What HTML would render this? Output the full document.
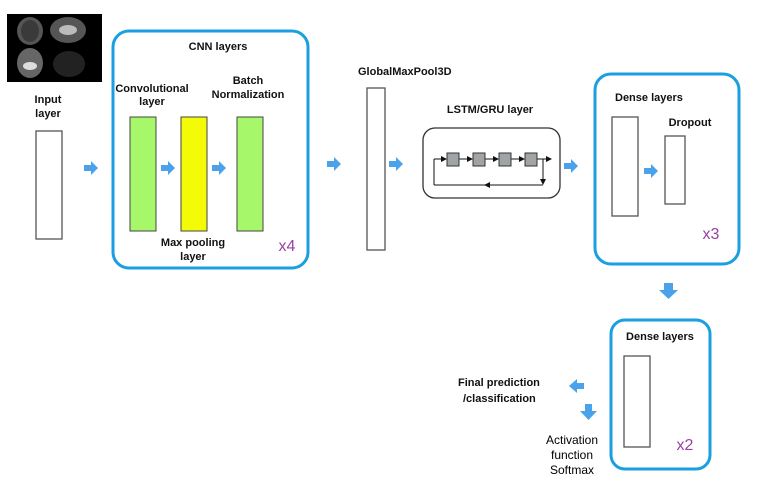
<!DOCTYPE html>
<html><head><meta charset="utf-8"><style>
html,body{margin:0;padding:0;background:#fff;}
svg{display:block;}
text{font-family:"Liberation Sans",sans-serif;font-weight:bold;fill:#111;font-size:11px;}
.p{fill:#9b3fa5;font-weight:normal;font-size:16px;}
</style></head><body>
<svg width="758" height="495" viewBox="0 0 758 495" xmlns="http://www.w3.org/2000/svg">
<defs>
<g id="ar"><polygon points="0,-3 7,-3 7,-7 14,0 7,7 7,3 0,3" fill="#4aa3ea"/></g>
<marker id="mh" markerWidth="6" markerHeight="6" refX="5" refY="3" orient="auto"><polygon points="0,0 6,3 0,6" fill="#111"/></marker>
</defs>
<!-- brain image -->
<rect x="7" y="14" width="95" height="68" fill="#000"/>
<ellipse cx="30" cy="31" rx="13" ry="14" fill="#555"/><ellipse cx="30" cy="31" rx="9" ry="11" fill="#3a3a3a"/>
<ellipse cx="68" cy="30" rx="18" ry="13" fill="#555"/><ellipse cx="68" cy="30" rx="9" ry="5" fill="#bbb"/>
<ellipse cx="30" cy="63" rx="13" ry="15" fill="#666"/><ellipse cx="30" cy="66" rx="7" ry="4" fill="#ddd"/>
<ellipse cx="69" cy="64" rx="16" ry="13" fill="#222"/>
<!-- input -->
<text x="48" y="103" text-anchor="middle">Input</text>
<text x="48" y="117" text-anchor="middle">layer</text>
<rect x="36" y="131" width="26" height="108" fill="#fff" stroke="#555" stroke-width="1.3"/>
<use href="#ar" x="84" y="168"/>
<!-- CNN -->
<rect x="113" y="31" width="195" height="237" rx="16" fill="none" stroke="#1a9fe0" stroke-width="3"/>
<text x="218" y="50" text-anchor="middle" font-size="10">CNN layers</text>
<text x="152" y="92" text-anchor="middle" font-size="10.5">Convolutional</text>
<text x="152" y="105" text-anchor="middle" font-size="10.5">layer</text>
<text x="248" y="84" text-anchor="middle" font-size="11">Batch</text>
<text x="248" y="98" text-anchor="middle" font-size="11">Normalization</text>
<rect x="130" y="117" width="26" height="114" fill="#a6f76a" stroke="#444" stroke-width="1"/>
<rect x="181" y="117" width="26" height="114" fill="#f4fb06" stroke="#444" stroke-width="1"/>
<rect x="237" y="117" width="26" height="114" fill="#a6f76a" stroke="#444" stroke-width="1"/>
<use href="#ar" x="161" y="168"/><use href="#ar" x="212" y="168"/>
<text x="193" y="246" text-anchor="middle" font-size="10.5">Max pooling</text>
<text x="193" y="260" text-anchor="middle" font-size="10.5">layer</text>
<text x="287" y="251" class="p" text-anchor="middle">x4</text>
<use href="#ar" x="327" y="164"/>
<!-- GMP -->
<text x="358" y="75" font-size="11">GlobalMaxPool3D</text>
<rect x="367" y="88" width="18" height="162" fill="#fff" stroke="#555" stroke-width="1.3"/>
<use href="#ar" x="389" y="164"/>
<!-- LSTM -->
<text x="490" y="113" text-anchor="middle" font-size="11">LSTM/GRU layer</text>
<rect x="423" y="128" width="137" height="70" rx="12" fill="#fff" stroke="#333" stroke-width="1.3"/>
<g stroke="#111" stroke-width="1" fill="none">
<line x1="434" y1="159" x2="446" y2="159" marker-end="url(#mh)"/>
<line x1="459" y1="159" x2="472" y2="159" marker-end="url(#mh)"/>
<line x1="485" y1="159" x2="498" y2="159" marker-end="url(#mh)"/>
<line x1="511" y1="159" x2="524" y2="159" marker-end="url(#mh)"/>
<line x1="537" y1="159" x2="551" y2="159" marker-end="url(#mh)"/>
<line x1="543" y1="159" x2="543" y2="184" marker-end="url(#mh)"/>
<line x1="543" y1="185" x2="434" y2="185"/>
<line x1="434" y1="185" x2="434" y2="159"/>
<line x1="495" y1="185" x2="485" y2="185" marker-end="url(#mh)"/>
</g>
<g fill="#a0a4a6" stroke="#333" stroke-width="1">
<rect x="447" y="153" width="12" height="13"/><rect x="473" y="153" width="12" height="13"/>
<rect x="499" y="153" width="12" height="13"/><rect x="525" y="153" width="12" height="13"/>
</g>
<use href="#ar" x="564" y="166"/>
<!-- Dense 1 -->
<rect x="595" y="74" width="144" height="190" rx="16" fill="none" stroke="#1a9fe0" stroke-width="3"/>
<text x="615" y="101" font-size="10">Dense layers</text>
<text x="690" y="126" text-anchor="middle" font-size="12">Dropout</text>
<rect x="612" y="117" width="26" height="99" fill="#fff" stroke="#555" stroke-width="1.3"/>
<rect x="665" y="136" width="20" height="68" fill="#fff" stroke="#555" stroke-width="1.3"/>
<use href="#ar" x="644" y="171"/>
<text x="711" y="239" class="p" text-anchor="middle">x3</text>
<!-- down arrow -->
<polygon points="664,283 673,283 673,290 678,290 668.5,299 659,290 664,290" fill="#4aa3ea"/>
<!-- Dense 2 -->
<rect x="611" y="320" width="99" height="149" rx="14" fill="none" stroke="#1a9fe0" stroke-width="3"/>
<text x="660" y="340" text-anchor="middle" font-size="10">Dense layers</text>
<rect x="624" y="356" width="26" height="91" fill="#fff" stroke="#555" stroke-width="1.3"/>
<text x="685" y="450" class="p" text-anchor="middle">x2</text>
<!-- outputs -->
<polygon points="584,383 577,383 577,379 569,386 577,393 577,389 584,389" fill="#4aa3ea"/>
<polygon points="585,404 592,404 592,411 597,411 588.5,420 580,411 585,411" fill="#4aa3ea"/>
<text x="458" y="386" font-size="11">Final prediction</text>
<text x="463" y="402" font-size="11">/classification</text>
<text x="572" y="444" text-anchor="middle" style="font-weight:normal;font-size:12px;fill:#000">Activation</text>
<text x="572" y="459" text-anchor="middle" style="font-weight:normal;font-size:12px;fill:#000">function</text>
<text x="572" y="474" text-anchor="middle" style="font-weight:normal;font-size:12px;fill:#000">Softmax</text>
</svg>
</body></html>
